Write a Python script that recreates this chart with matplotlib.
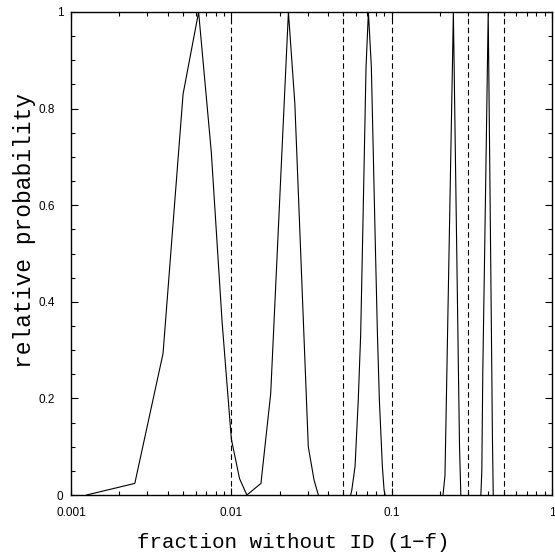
import matplotlib
matplotlib.use("Agg")
import matplotlib.pyplot as plt
import matplotlib.transforms as mtransforms
from matplotlib.ticker import FixedLocator, FixedFormatter, LogLocator, MultipleLocator, NullFormatter

# relative probability curves
x1 = [0.00125, 0.0025, 0.00375, 0.005, 0.00625, 0.0075, 0.00875, 0.01, 0.01125, 0.0125]
y1 = [0.0, 0.024, 0.293, 0.83, 1.0, 0.71, 0.36, 0.116, 0.034, 0.0]

x2 = [0.0125, 0.0153, 0.0176, 0.0227, 0.0249, 0.0302, 0.0328, 0.0349]
y2 = [0.0, 0.024, 0.21, 1.0, 0.81, 0.1, 0.031, 0.0]

x3 = [0.0555, 0.0564, 0.0591, 0.0619, 0.0641, 0.066, 0.0692, 0.0716,
      0.0747, 0.0788, 0.0815, 0.0838, 0.0875, 0.0897, 0.091]
y3 = [0.0, 0.01, 0.059, 0.197, 0.334, 0.541, 0.886, 1.0,
      0.886, 0.541, 0.334, 0.197, 0.059, 0.01, 0.0]

x4 = [0.209, 0.215, 0.22, 0.225, 0.23, 0.235, 0.24, 0.2425, 0.245, 0.25, 0.255, 0.26, 0.265, 0.27]
y4 = [0.0, 0.04, 0.22, 0.40, 0.575, 0.746, 0.912, 1.0, 0.90, 0.69, 0.49, 0.29, 0.10, 0.0]

x5 = [0.36, 0.365, 0.37, 0.38, 0.39, 0.40, 0.41, 0.42, 0.425, 0.43]
y5 = [0.0, 0.05, 0.25, 0.5, 0.75, 1.0, 0.65, 0.3, 0.12, 0.0]

curves = [(x1, y1), (x2, y2), (x3, y3), (x4, y4), (x5, y5)]

# dashed reference fractions
marks = [0.01, 0.05, 0.1, 0.3, 0.5]

xticks = [0.001, 0.01, 0.1, 1]
xticklabels = ["0.001", "0.01", "0.1", "1"]
yticks = [0, 0.2, 0.4, 0.6, 0.8, 1]
yticklabels = ["0", "0.2", "0.4", "0.6", "0.8", "1"]

fig = plt.figure(figsize=(5.55, 5.52), dpi=100)
ax = fig.add_axes([71 / 555, 57 / 552, 481 / 555, 483 / 552])

for xs, ys in curves:
    ax.plot(xs, ys, color="black", lw=0.8)

for m in marks:
    ax.axvline(m, color="black", lw=0.8, linestyle=(0, (5, 3)))

ax.set_xscale("log")
ax.set_xlim(0.001, 1)
ax.set_ylim(0, 1)

ax.xaxis.set_major_locator(FixedLocator(xticks))
ax.xaxis.set_major_formatter(FixedFormatter(xticklabels))
ax.xaxis.set_minor_locator(LogLocator(base=10, subs=range(2, 10)))
ax.xaxis.set_minor_formatter(NullFormatter())
ax.yaxis.set_major_locator(FixedLocator(yticks))
ax.yaxis.set_major_formatter(FixedFormatter(yticklabels))
ax.yaxis.set_minor_locator(MultipleLocator(0.05))

ax.tick_params(which="both", direction="in", top=True, right=True, width=0.8)
ax.tick_params(which="major", length=5)
ax.tick_params(which="minor", length=3)
ax.tick_params(axis="y", pad=5.5)
ax.tick_params(axis="x", pad=9)
for lab in ax.get_xticklabels() + ax.get_yticklabels():
    lab.set_fontfamily("Liberation Sans")
    lab.set_fontsize(8.5)

# the longer y labels sit a bit further left in the original
shift = mtransforms.ScaledTranslation(-6 / 72, 0, fig.dpi_scale_trans)
for lab in ax.get_yticklabels():
    if len(lab.get_text()) > 1:
        lab.set_transform(lab.get_transform() + shift)

for s in ax.spines.values():
    s.set_linewidth(1.0)

ax.set_xlabel("fraction without ID (1\u2212f)", fontfamily="Liberation Mono", fontsize=15,
              labelpad=10, x=0.4626)
ax.set_ylabel("relative probability", fontfamily="Liberation Mono", fontsize=16.5,
              labelpad=2, y=0.547)

fig.savefig("out.png", dpi=100)
